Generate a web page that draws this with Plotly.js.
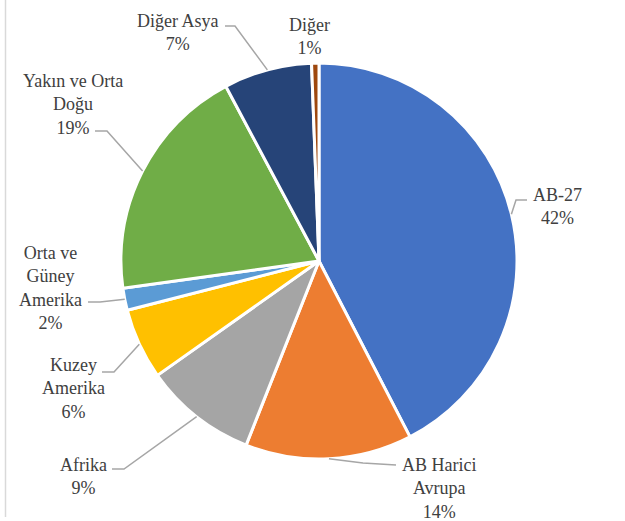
<!DOCTYPE html>
<html>
<head>
<meta charset="utf-8">
<script src="https://cdn.plot.ly/plotly-3.0.1.min.js"></script>
<style>html,body{margin:0;padding:0;background:#fff;}#chart{width:625px;height:521px;}</style>
</head>
<body>
<div id="chart"></div>
<script>
// ---- data ----
var categories = ["AB-27", "AB Harici Avrupa", "Afrika", "Kuzey Amerika", "Orta ve Güney Amerika", "Yakın ve Orta Doğu", "Diğer Asya", "Diğer"];
var displayLabels = ["AB-27", "AB Harici<br>Avrupa", "Afrika", "Kuzey<br>Amerika", "Orta ve<br>Güney<br>Amerika", "Yakın ve Orta<br>Doğu", "Diğer Asya", "Diğer"];
var shares = [42.4, 13.6, 9.2, 5.8, 1.8, 19.4, 7.2, 0.6];
var colors = ["#4472C4", "#ED7D31", "#A5A5A5", "#FFC000", "#5B9BD5", "#70AD47", "#264478", "#9E480E"];

// ---- layout constants (pixels) ----
var W = 625, H = 521;
var CX = 319, CY = 261, R = 198;
var FONT = "Liberation Serif";
// label block centres and leader-line ends (text side) / elbows
var labelLayout = [
  {x: 557, y: 206, end: [527, 200], elbow: [516, 200]},
  {x: 439, y: 488, end: [396, 465], elbow: [363, 463]},
  {x: 83,  y: 476, end: [112, 469], elbow: [124, 469]},
  {x: 73,  y: 388, end: [102, 372], elbow: [114, 372]},
  {x: 50,  y: 288, end: [88, 302],  elbow: [100, 302]},
  {x: 73,  y: 104, end: [95, 131],  elbow: [107, 131]},
  {x: 177, y: 32,  end: [225, 26],  elbow: [235, 26]},
  {x: 309, y: 37,  end: null, elbow: null}
];

function px(x) { return x / W; }
function py(y) { return 1 - y / H; }

var total = shares.reduce(function (a, b) { return a + b; }, 0);
var annotations = [], shapes = [];
var cum = 0;
for (var i = 0; i < shares.length; i++) {
  var mid = (cum + shares[i] / 2) / total * 2 * Math.PI;
  cum += shares[i];
  var pct = Math.round(shares[i] / total * 100) + "%";
  var L = labelLayout[i];
  annotations.push({
    x: px(L.x), y: py(L.y), xref: "paper", yref: "paper",
    xanchor: "center", yanchor: "middle", showarrow: false, align: "center",
    text: displayLabels[i] + "<br>" + pct,
    font: {family: FONT, size: 18, color: "#404040"}
  });
  if (L.end) {
    var ex = CX + R * Math.sin(mid), ey = CY - R * Math.cos(mid);
    var path = "M" + px(ex) + "," + py(ey) + " L" + px(L.elbow[0]) + "," + py(L.elbow[1]) +
               " L" + px(L.end[0]) + "," + py(L.end[1]);
    shapes.push({type: "path", xref: "paper", yref: "paper", path: path,
                 line: {color: "#A6A6A6", width: 1.5}});
  }
}
// chart frame (left border)
shapes.push({type: "line", xref: "paper", yref: "paper", x0: px(5.5), x1: px(5.5), y0: py(0), y1: py(517),
             line: {color: "#D9D9D9", width: 1.5}});

var trace = {
  type: "pie",
  labels: categories,
  values: shares,
  sort: false,
  direction: "clockwise",
  rotation: 0,
  textinfo: "none",
  hoverinfo: "label+percent",
  marker: {colors: colors, line: {color: "#FFFFFF", width: 3}},
  domain: {x: [px(CX - R), px(CX + R)], y: [py(CY + R), py(CY - R)]},
  showlegend: false
};

var layout = {
  width: W, height: H,
  margin: {l: 0, r: 0, t: 0, b: 0},
  paper_bgcolor: "#FFFFFF",
  font: {family: FONT},
  showlegend: false,
  annotations: annotations,
  shapes: shapes
};

Plotly.newPlot("chart", [trace], layout, {displayModeBar: false});
</script>
</body>
</html>
